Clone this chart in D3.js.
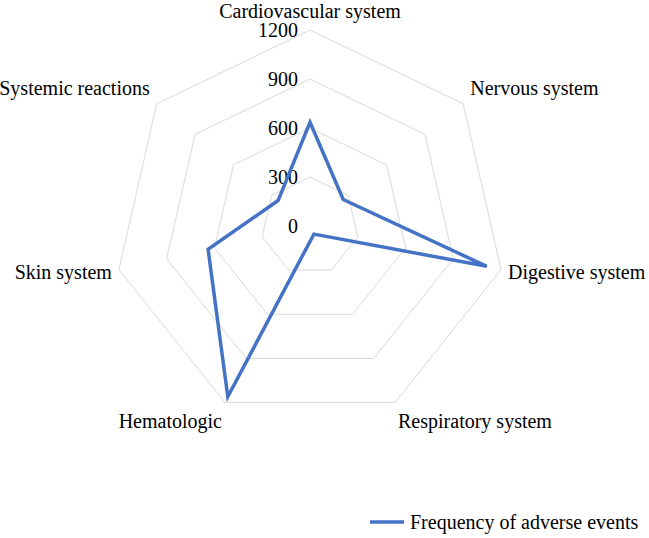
<!DOCTYPE html>
<html>
<head>
<meta charset="utf-8">
<script src="https://cdn.jsdelivr.net/npm/d3@7"></script>
<style>
  body { margin: 0; background: #fff; }
  text { font-family: "Liberation Serif", "Times New Roman", serif; fill: #000; }
</style>
</head>
<body>
<script>
// categories and values
const categories = ['Cardiovascular system', 'Nervous system', 'Digestive system',
  'Respiratory system', 'Hematologic', 'Skin system', 'Systemic reactions'];
const values = [635, 260, 1110, 55, 1160, 640, 250];
const ticks = [0, 300, 600, 900, 1200];
const seriesName = 'Frequency of adverse events';

const width = 649;
const height = 538;
const cx = 310;
const cy = 226;
const radius = 196;

const svg = d3.select('body').append('svg')
  .attr('width', width)
  .attr('height', height);

const r = d3.scaleLinear().domain([0, 1200]).range([0, radius]);
const angle = d3.scalePoint().domain(d3.range(categories.length + 1))
  .range([0, 2 * Math.PI]);

const pt = (i, v) => {
  const a = angle(i % categories.length);
  return [cx + r(v) * Math.sin(a), cy - r(v) * Math.cos(a)];
};

const g = svg.append('g');

// grid rings
g.selectAll('.ring')
  .data(ticks.slice(1))
  .enter().append('polygon')
  .attr('class', 'ring')
  .attr('points', (t) => categories.map((c, i) => pt(i, t).join(',')).join(' '))
  .attr('fill', 'none')
  .attr('stroke', '#d9d9d9')
  .attr('stroke-width', 1);

// tick labels
g.selectAll('.tick')
  .data(ticks)
  .enter().append('text')
  .attr('class', 'tick')
  .attr('x', cx - 12)
  .attr('y', (t) => cy - r(t))
  .attr('dy', '0.35em')
  .attr('text-anchor', 'end')
  .style('font-size', '20px')
  .text((t) => t);

// data line
const line = d3.line().curve(d3.curveLinearClosed);
g.append('path')
  .attr('d', line(values.map((v, i) => pt(i, v))))
  .attr('fill', 'none')
  .attr('stroke', '#4472c4')
  .attr('stroke-width', 3.5)
  .attr('stroke-linejoin', 'miter');

// category labels
g.selectAll('.cat')
  .data(categories)
  .enter().append('text')
  .attr('class', 'cat')
  .style('font-size', '20px')
  .attr('x', (d, i) => {
    const [x] = pt(i, 1200);
    const s = Math.sin(angle(i));
    const c = Math.cos(angle(i));
    if (i === 0) return x;
    const off = c < -0.5 ? 3 : 7;
    return x + (s > 0 ? off : -off);
  })
  .attr('y', (d, i) => {
    const [, y] = pt(i, 1200);
    const c = Math.cos(angle(i));
    if (i === 0) return y - 19;
    if (Math.abs(c) < 0.3) return y + 2;
    return c > 0 ? y - 16 : y + 18;
  })
  .attr('dy', '0.35em')
  .attr('text-anchor', (d, i) => i === 0 ? 'middle' : (Math.sin(angle(i)) > 0 ? 'start' : 'end'))
  .text((d) => d);

// legend
const legend = svg.append('g').attr('transform', 'translate(370,522)');
legend.append('line')
  .attr('x1', 0).attr('x2', 34)
  .attr('stroke', '#4472c4')
  .attr('stroke-width', 3.5);
legend.append('text')
  .attr('x', 40)
  .attr('dy', '0.35em')
  .style('font-size', '20px')
  .text(seriesName);
</script>
</body>
</html>
